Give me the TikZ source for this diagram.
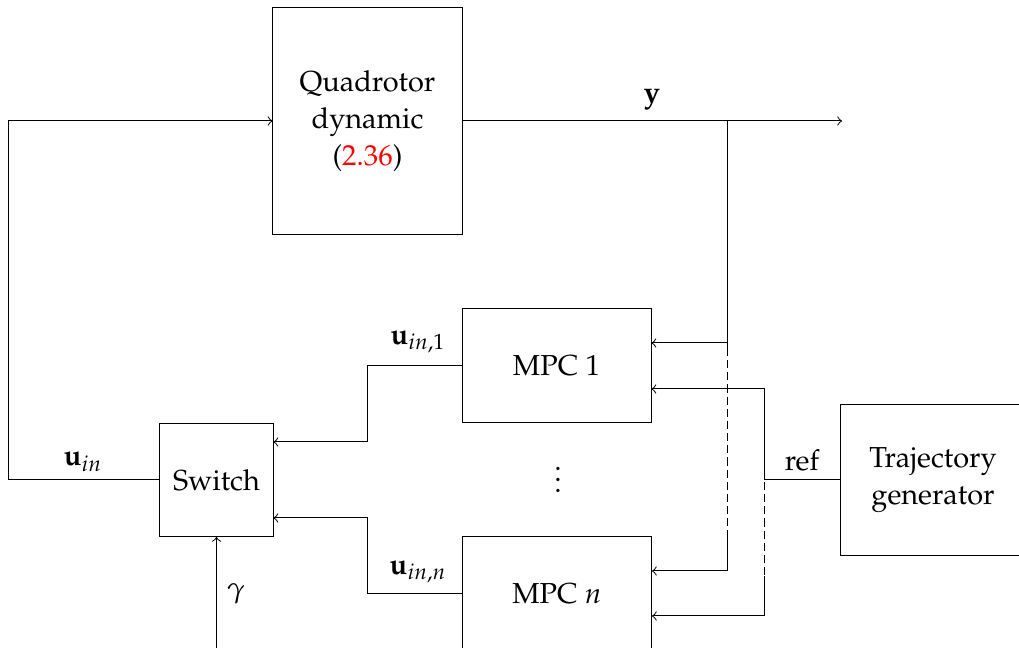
\documentclass[tikz,border=0pt]{standalone}
\usepackage[T1]{fontenc}
\usepackage{mathpazo}
\usepackage{xcolor}
\usetikzlibrary{calc}
\tikzset{
  blk/.style={draw, line width=0.37pt, align=center, inner sep=2pt},
  conn/.style={line width=0.37pt},
  arr/.style={conn, ->},
  dsh/.style={conn, dash pattern=on 3pt off 1.5pt},
  lbl/.style={inner sep=0pt}
}
\begin{document}
\begin{tikzpicture}[x=0.37pt, y=-0.37pt, font=\fontsize{10.7pt}{13.7pt}\selectfont]
\useasboundingbox (0,0) rectangle (1019,648);
\clip (0,0) rectangle (1019,648);
% blocks
\node[blk, minimum width=69.93pt, minimum height=83.99pt] (quad) at (367.5,121) {Quadrotor\\dynamic\\(\textcolor{red}{2.36})};
\node[blk, minimum width=69.93pt, minimum height=42.18pt] (mpc1) at (556.5,366) {MPC 1};
\node[blk, minimum width=69.93pt, minimum height=42.18pt] (mpcn) at (557,594) {MPC $n$};
\node[blk, minimum width=41.81pt, minimum height=41.81pt] (sw) at (216.5,480) {Switch};
\node[blk, minimum width=68.82pt, minimum height=55.87pt] (traj) at (933,480) {Trajectory\\generator};
\node[lbl] (dots) at (558,472) {$\vdots$};
% coordinates
\coordinate (yend) at (842,121);
\coordinate (br) at (727,121);
\coordinate (brA) at (727,348);
\coordinate (brB) at (727,535);
\coordinate (rj) at (764,480);
\coordinate (rjA) at (764,482);
\coordinate (rjB) at (764,576);
\coordinate (m1x) at (367,366);
\coordinate (mnx) at (367,594);
\coordinate (fb) at (8,480);
\coordinate (gam) at (216.5,660);
\coordinate (m1a) at ($(mpc1.east)+(0,-23)$);
\coordinate (m1b) at ($(mpc1.east)+(0,23)$);
\coordinate (mna) at ($(mpcn.east)+(0,-23)$);
\coordinate (mnb) at ($(mpcn.east)+(0,22)$);
\coordinate (swa) at ($(sw.east)+(0,-38)$);
\coordinate (swb) at ($(sw.east)+(0,38)$);
% output y
\draw[arr] (quad.east) -- (yend);
\node[lbl] (ylbl) at (652,100) {$\mathbf{y}$};
% measurement branch
\draw[conn] (br) -- (brA);
\draw[arr] (br) |- (m1a);
\draw[dsh] (brA) -- (brB);
\draw[arr] (brB) |- (mna);
% reference branch
\draw[conn] (traj.west) -- (rj);
\draw[arr] (rj) |- (m1b);
\draw[dsh] (rjA) -- (rjB);
\draw[arr] (rjB) |- (mnb);
\node[lbl] (reflbl) at (802,460) {ref};
% MPC outputs to switch
\draw[arr] (mpc1.west) -- (m1x) |- (swa);
\draw[arr] (mpcn.west) -- (mnx) |- (swb);
\node[lbl] (u1lbl) at (418,342) {$\mathbf{u}_{in,1}$};
\node[lbl] (unlbl) at (418,572) {$\mathbf{u}_{in,n}$};
% switch output feedback
\draw[arr] (sw.west) -- (fb) |- (quad.west);
\node[lbl] (uinlbl) at (83,462) {$\mathbf{u}_{in}$};
% gamma
\draw[arr] (gam) -- (sw.south);
\node[lbl] (glbl) at (236,594) {$\gamma$};
\end{tikzpicture}
\end{document}
